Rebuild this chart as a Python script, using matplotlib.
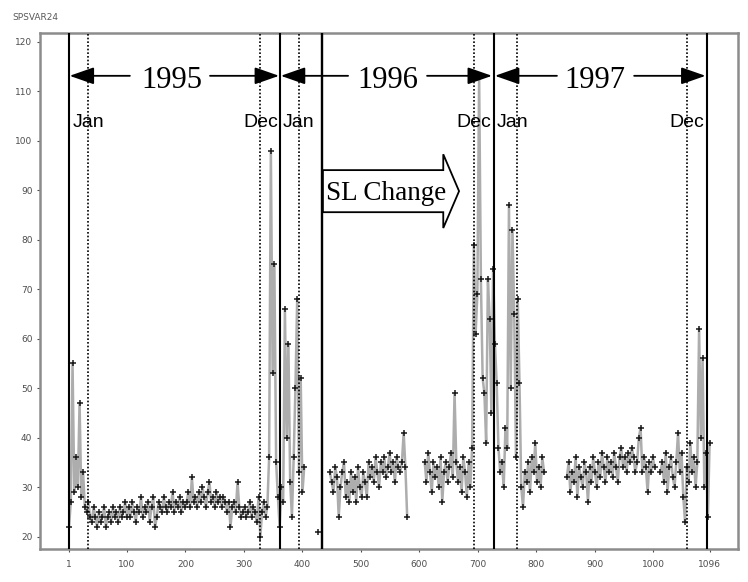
import numpy as np
import matplotlib.pyplot as plt
from matplotlib.patches import FancyArrow

STEP = 3  # one reading every third day

# readings, as (first day, values) stretches; gaps between stretches have no data
seg95_start = 1
seg95 = [22, 27, 55, 29, 36, 30, 47, 28, 33, 26,
         25, 27, 24, 23, 26, 24, 22, 25, 23, 24, 26, 22, 24, 25, 23, 26, 24, 25, 23, 26, 24, 25, 27, 24,
         26, 24, 27, 25, 23, 26, 25, 28, 24, 26, 25, 27, 23, 26, 28, 22, 24, 27, 26, 25, 28, 26, 25, 27,
         26, 29, 25, 27, 26, 28, 25, 27, 26,
         27, 29, 26, 32, 27, 28, 26, 29, 27, 30, 28, 26, 29, 31, 27, 28, 26, 29, 27, 28, 26, 28, 27, 25,
         27, 22, 26, 27, 25, 31, 26, 24, 25,
         26, 24, 25, 27, 24, 26, 25, 23, 28, 20, 25, 27, 24, 26, 36, 98, 53, 75, 35, 28,
         22, 30, 27, 66, 40, 59, 31, 24, 36, 50, 68, 33, 52, 29, 34]

lone_start = 427
lone = [21]

seg96a_start = 447
seg96a = [33, 31, 29, 34, 32, 24, 30, 33, 35, 28, 31, 27, 33, 29, 32, 27, 34, 30, 28, 33, 31, 28, 35,
          32, 34, 31, 36, 33, 30, 35, 33, 36, 32, 34, 37, 33, 35, 31, 36, 34, 33, 35, 41, 34, 24]

seg96b_start = 609
seg96b = [35, 31, 37, 33, 29, 35, 32, 34, 30, 36, 27, 33, 35, 31, 34, 37, 32, 49, 35, 31, 34, 29, 36,
          33, 28, 35, 30, 38,
          79, 61, 69, 113, 72, 52, 49, 39, 72, 64, 45, 74, 59, 51, 38, 33, 35, 30, 42, 38, 87, 50, 82,
          65, 36, 68, 51, 30, 26,
          33, 31, 35, 29, 36, 33, 39, 31, 34, 30, 36, 33]

seg97a_start = 852
seg97a = [32, 35, 29, 33, 31, 36, 28, 34, 32, 30, 35, 33, 27, 34, 31, 36, 33, 30, 35, 32, 37, 34, 31,
          36, 33, 35, 32, 37, 34, 31, 36, 38, 34, 36, 33, 37, 35, 38, 36, 33, 35, 40, 42, 33, 36, 34,
          29, 35, 33, 36, 34]

seg97b_start = 1012
seg97b = [33, 35, 31, 37, 29, 34, 36, 32, 30, 35, 41, 33, 37, 28, 23, 34, 31, 39, 33, 36, 30, 35, 62,
          40, 56, 30, 37, 24, 39]

segments = [(seg95_start, seg95), (lone_start, lone), (seg96a_start, seg96a),
            (seg96b_start, seg96b), (seg97a_start, seg97a), (seg97b_start, seg97b)]

year_lines = [1, 361, 727, 1091]
sl_lines = [431, 434]
month_lines = [33, 327, 394, 693, 767, 1057]

years = ['1995', '1996', '1997']
year_mid = [177, 546, 900]
year_left = [(2, 105), (363, 478), (729, 835)]     # (tip, tail)
year_right = [(360, 242), (724, 613), (1089, 967)]

jan_x = [8, 366, 732]
dec_x = [358, 722, 1086]

xticks = [1, 100, 200, 300, 400, 500, 600, 700, 800, 900, 1000, 1096]
yticks = [20, 30, 40, 50, 60, 70, 80, 90, 100, 110, 120]

fig = plt.figure(figsize=(7.48, 5.82), dpi=100)
ax = fig.add_axes([0.0535, 0.0562, 0.9332, 0.8871])

for start, vals in segments:
    days = start + STEP * np.arange(len(vals))
    ax.plot(days, vals, '-', color='0.68', lw=1.8, zorder=2)
    ax.plot(days, vals, '+', color='0.1', ms=4.5, mew=1.1, zorder=3)

for d in year_lines:
    ax.axvline(d, color='k', lw=1.5, zorder=4)
for d in sl_lines:
    ax.axvline(d, color='k', lw=1.0, zorder=4)
for d in month_lines:
    ax.axvline(d, color='k', lw=1.2, ls=(0, (1, 1.2)), zorder=4)

# year spans
arrow_y = 113.1
aprops = dict(arrowstyle='-|>,head_length=1.0,head_width=0.35', color='k', lw=1.3,
              mutation_scale=15, shrinkA=0, shrinkB=0)
for i in range(3):
    ax.text(year_mid[i], 110.6, years[i], ha='center', va='baseline',
            family='Liberation Serif', fontsize=22, zorder=6)
    ax.annotate('', xy=(year_left[i][0], arrow_y), xytext=(year_left[i][1], arrow_y),
                arrowprops=aprops, zorder=6)
    ax.annotate('', xy=(year_right[i][0], arrow_y), xytext=(year_right[i][1], arrow_y),
                arrowprops=aprops, zorder=6)
    ax.text(jan_x[i], 102.8, 'Jan', ha='left', va='baseline',
            family='Liberation Sans', fontsize=14, zorder=6)
    ax.text(dec_x[i], 102.8, 'Dec', ha='right', va='baseline',
            family='Liberation Sans', fontsize=14, zorder=6)

# SL change arrow
sl = FancyArrow(435, 89.8, 232.7, 0, width=8.5, head_width=14.9, head_length=27,
                length_includes_head=True, fc='white', ec='k', lw=1.3, zorder=5)
ax.add_patch(sl)
ax.text(440, 88.0, 'SL Change', ha='left', va='baseline',
        family='Liberation Serif', fontsize=19.5, zorder=6)

ax.set_xlim(-48.6, 1144.6)
ax.set_ylim(17.45, 121.75)
ax.set_xticks(xticks)
ax.set_xticklabels([str(t) for t in xticks])
ax.set_yticks(yticks)
ax.set_yticklabels([str(t) for t in yticks])
ax.tick_params(axis='both', length=2, width=0.8, labelsize=6.5, colors='0.3')
ax.tick_params(axis='x', pad=5.5)
ax.tick_params(axis='y', pad=3.5)
for sp in ax.spines.values():
    sp.set_color('0.55')
    sp.set_linewidth(1.8)

fig.text(12 / 748, 1 - 18 / 582, 'SPSVAR24', fontsize=6.5, color='0.35', va='center')

fig.savefig('out.png', dpi=100)
